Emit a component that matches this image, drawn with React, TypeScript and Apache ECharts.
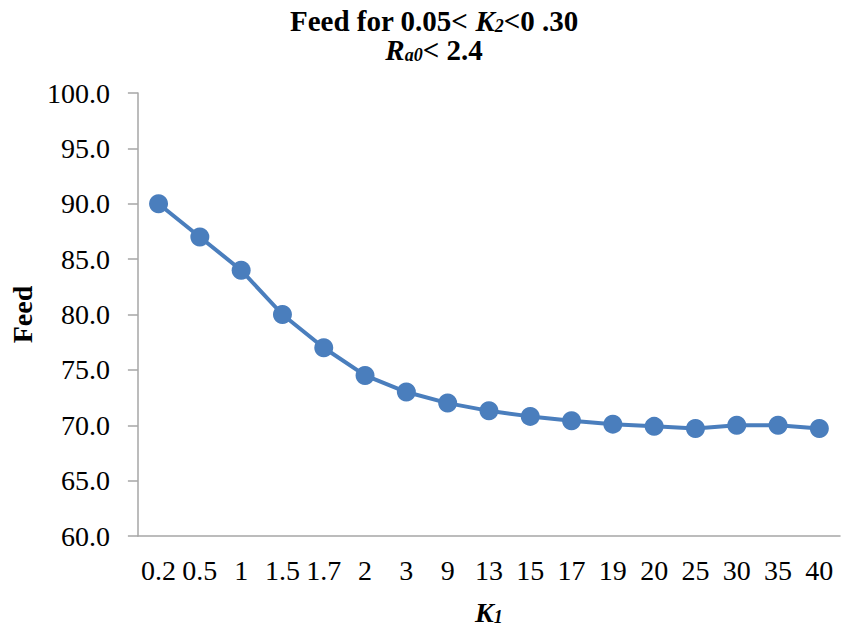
import React, { useEffect, useRef } from "react";
import * as echarts from "echarts";

const categories = ["0.2", "0.5", "1", "1.5", "1.7", "2", "3", "9", "13", "15", "17", "19", "20", "25", "30", "35", "40"];
const feedValues = [90.0, 87.0, 84.0, 80.0, 77.0, 74.5, 73.0, 72.0, 71.3, 70.8, 70.4, 70.1, 69.9, 69.7, 70.0, 70.0, 69.7];
const yMin = 60;
const yMax = 100;
const yInterval = 5;

const FONT = "'Liberation Serif', 'Times New Roman', serif";
const BLUE = "#4a7ebd";

export default function App() {
  const ref = useRef<HTMLDivElement>(null);
  useEffect(() => {
    document.body.style.margin = "0";
    if (!ref.current) return;
    const chart = echarts.init(ref.current, null, { renderer: "svg" });
    chart.setOption({
      animation: false,
      backgroundColor: "#ffffff",
      graphic: [
        {
          type: "text",
          x: 434,
          y: 6,
          style: {
            text: "Feed for 0.05< {i|K}{s|2}<0 .30\n{i|R}{s|a0}< 2.4",
            align: "center",
            fontFamily: FONT,
            fontSize: 29,
            fontWeight: "bold",
            lineHeight: 29,
            fill: "#000",
            rich: {
              i: { fontFamily: FONT, fontSize: 29, fontWeight: "bold", fontStyle: "italic", lineHeight: 29, fill: "#000" },
              s: { fontFamily: FONT, fontSize: 18, fontWeight: "bold", fontStyle: "italic", lineHeight: 29, verticalAlign: "bottom", padding: [10, 0, 0, 0], fill: "#000" },
            },
          },
        },
      ],
      grid: { left: 135, right: 7, top: 93, bottom: 98, containLabel: false },
      xAxis: {
        type: "category",
        data: categories,
        boundaryGap: true,
        name: "{b|K}{s|1}",
        nameLocation: "middle",
        nameGap: 62,
        nameTextStyle: {
          rich: {
            b: { fontFamily: FONT, fontSize: 28, fontWeight: "bold", fontStyle: "italic", color: "#000" },
            s: { fontFamily: FONT, fontSize: 18, fontWeight: "bold", fontStyle: "italic", color: "#000", padding: [10, 0, 0, 0] },
          },
        },
        axisLine: { lineStyle: { color: "#a6a6a6", width: 1.5 } },
        axisTick: { show: false },
        axisLabel: { interval: 0, hideOverlap: false, fontFamily: FONT, fontSize: 28, color: "#000", margin: 20 },
        splitLine: { show: false },
      },
      yAxis: {
        type: "value",
        min: yMin,
        max: yMax,
        interval: yInterval,
        name: "Feed",
        nameLocation: "middle",
        nameGap: 100,
        nameTextStyle: { fontFamily: FONT, fontSize: 28, fontWeight: "bold", color: "#000" },
        axisLine: { show: true, lineStyle: { color: "#a6a6a6", width: 1.5 } },
        axisTick: { show: true, inside: false, length: 10, lineStyle: { color: "#a6a6a6", width: 1.5 } },
        axisLabel: { fontFamily: FONT, fontSize: 28, color: "#000", margin: 28, formatter: (v: number) => v.toFixed(1) },
        splitLine: { show: false },
      },
      series: [
        {
          type: "line",
          data: feedValues,
          symbol: "circle",
          symbolSize: 19,
          lineStyle: { color: BLUE, width: 4 },
          itemStyle: { color: BLUE },
        },
      ],
    });
    return () => chart.dispose();
  }, []);
  return <div ref={ref} style={{ width: 847, height: 634 }} />;
}
